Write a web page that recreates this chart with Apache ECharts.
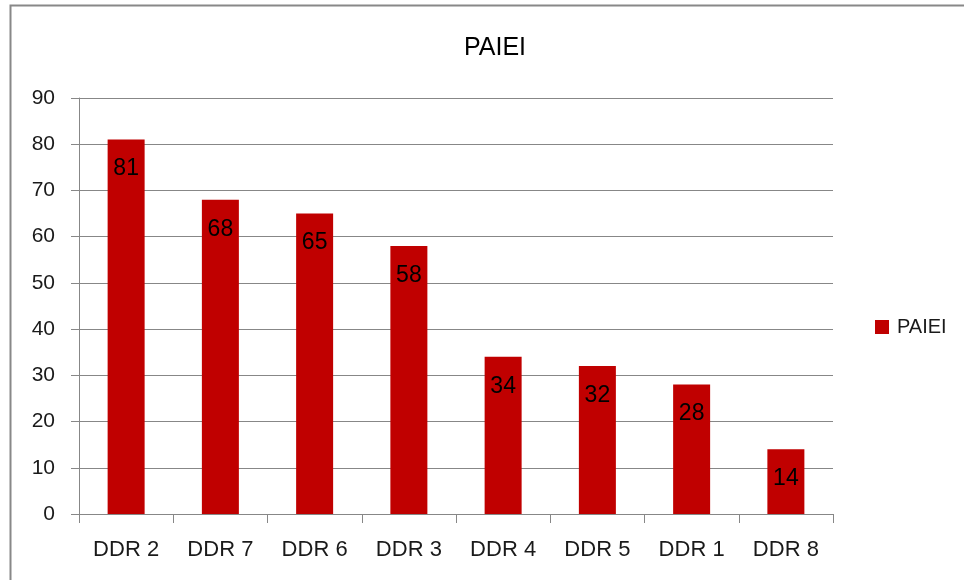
<!DOCTYPE html>
<html>
<head>
<meta charset="utf-8">
<script src="https://cdn.jsdelivr.net/npm/echarts@6/dist/echarts.min.js"></script>
<style>
html,body{margin:0;padding:0;background:#fff;}
#chart{width:964px;height:580px;}
</style>
</head>
<body>
<div id="chart"></div>
<script>
const categories = ['DDR 2','DDR 7','DDR 6','DDR 3','DDR 4','DDR 5','DDR 1','DDR 8'];
const seriesName = 'PAIEI';
const values = [81, 68, 65, 58, 34, 32, 28, 14];
const titleText = 'PAIEI';

const FONT = '"Liberation Sans", Arial, sans-serif';
const chart = echarts.init(document.getElementById('chart'));
chart.setOption({
  animation: false,
  backgroundColor: '#ffffff',
  title: {
    text: titleText,
    left: 490, top: 31, textAlign: 'center',
    textStyle: {fontFamily: FONT, fontSize: 25, fontWeight: 'normal', color: '#000'}
  },
  legend: {
    data: [seriesName],
    left: 875, top: 317, padding: 0,
    icon: 'rect', itemWidth: 14, itemHeight: 14,
    textStyle: {fontFamily: FONT, fontSize: 20, color: '#1a1a1a', padding: [0,0,0,3]}
  },
  graphic: [{
    type: 'rect', left: 8, top: 3, z: 100,
    shape: {width: 1000, height: 1000},
    style: {fill: 'none', stroke: '#888888', lineWidth: 2}
  }],
  grid: {left: 79, right: 131, top: 98, bottom: 66},
  xAxis: {
    type: 'category', data: categories,
    axisLine: {lineStyle: {color: '#878787', width: 1}},
    axisTick: {show: true, length: 9, lineStyle: {color: '#878787'}},
    axisLabel: {fontFamily: FONT, fontSize: 22, color: '#1a1a1a', margin: 25}
  },
  yAxis: {
    type: 'value', min: 0, max: 90, interval: 10,
    axisLine: {show: true, lineStyle: {color: '#878787', width: 1}},
    axisTick: {show: true, length: 8, lineStyle: {color: '#878787'}},
    splitLine: {lineStyle: {color: '#878787', width: 1}},
    axisLabel: {fontFamily: FONT, fontSize: 21, color: '#1a1a1a', margin: 24}
  },
  series: [{
    name: seriesName, type: 'bar', data: values,
    barWidth: 37,
    itemStyle: {color: '#C00000'},
    label: {show: true, position: 'insideTop', distance: 18,
      fontFamily: FONT, fontSize: 23, color: '#000'}
  }]
});
</script>
</body>
</html>
